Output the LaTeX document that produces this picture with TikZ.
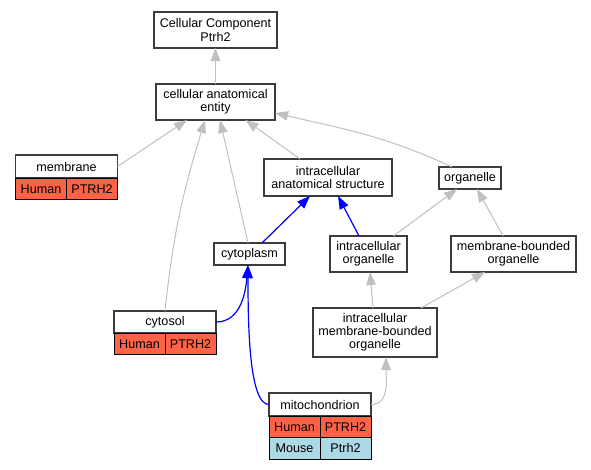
\documentclass[tikz,border=0pt]{standalone}
\usepackage{fontspec}
\setmainfont{Liberation Sans}
\usepackage{tikz}
\usetikzlibrary{arrows.meta}
\definecolor{isagray}{HTML}{C0C0C0}
\definecolor{tomato}{HTML}{FF6347}
\definecolor{lightblue}{HTML}{ADD8E6}
\definecolor{boxline}{HTML}{3C3C3C}
\tikzstyle{term}=[rectangle, draw=boxline, line width=1.4pt, fill=white, align=center, inner sep=2pt, outer sep=0pt]
\tikzstyle{cell}=[rectangle, draw=black, line width=1pt, inner sep=0pt, outer sep=0pt, minimum width=51pt, minimum height=21.5pt, anchor=north west]
\tikzset{isa/.style={draw=isagray, line width=1pt, -{Triangle[length=13pt,width=9.5pt]}},
	partof/.style={draw=blue, line width=1.2pt, -{Triangle[length=13pt,width=9.5pt]}}}

\begin{document}
\begin{tikzpicture}[x=1pt, y=1pt, font=\fontsize{12.6}{13.2}\selectfont]
		\useasboundingbox (0,0) rectangle (591,-469);
		\node[term, minimum width=123pt, minimum height=36pt] (cc) at (215.5,-30) {Cellular Component\\Ptrh2};
		\node[term, minimum width=119pt, minimum height=36pt] (cae) at (215.5,-102) {cellular anatomical\\entity};
		\node[term, minimum width=128pt, minimum height=37pt] (ias) at (328,-177.5) {intracellular\\anatomical structure};
		\node[term, minimum width=62pt, minimum height=22pt] (org) at (470,-178) {organelle};
		\node[term, minimum width=71pt, minimum height=22pt] (cytoplasm) at (249.5,-254) {cytoplasm};
		\node[term, minimum width=77pt, minimum height=36pt] (io) at (368.5,-254) {intracellular\\organelle};
		\node[term, minimum width=125pt, minimum height=36pt] (mbo) at (513.5,-254) {membrane-bounded\\organelle};
		\node[term, minimum width=124pt, minimum height=49pt] (imbo) at (375,-332.5) {intracellular\\membrane-bounded\\organelle};
		\node[term, minimum width=102pt, minimum height=23pt] (membrane) at (66.5,-166.5) {membrane};
		\node[cell, fill=tomato] (membrane-a) at (membrane.south west) {Human};
		\node[cell, fill=tomato] (membrane-b) at (membrane-a.north east) {PTRH2};
		\node[term, minimum width=102pt, minimum height=22pt] (cytosol) at (165,-322) {cytosol};
		\node[cell, fill=tomato] (cytosol-a) at (cytosol.south west) {Human};
		\node[cell, fill=tomato] (cytosol-b) at (cytosol-a.north east) {PTRH2};
		\node[term, minimum width=102pt, minimum height=23pt] (mito) at (320,-404.5) {mitochondrion};
		\node[cell, fill=tomato] (mito-a) at (mito.south west) {Human};
		\node[cell, fill=tomato] (mito-b) at (mito-a.north east) {PTRH2};
		\node[cell, fill=lightblue] (mito-c) at (mito-a.south west) {Mouse};
		\node[cell, fill=lightblue] (mito-d) at (mito-c.north east) {Ptrh2};
		\draw[isa] (cae) -- (cc);
		\draw[isa] (membrane.east) -- ([xshift=-28.5pt]cae.south);
		\draw[isa] (cytosol.north) to[out=84, in=253] ([xshift=-10.5pt]cae.south);
		\draw[isa] ([xshift=-1.5pt]cytoplasm.north) -- ([xshift=4.5pt]cae.south);
		\draw[isa] ([xshift=-28pt]ias.north) -- ([xshift=30pt]cae.south);
		\draw[isa] ([xshift=-18pt]org.north) to[out=155, in=-13] ([yshift=-11pt]cae.east);
		\draw[partof] ([xshift=12.5pt]cytoplasm.north) -- ([xshift=-18pt]ias.south);
		\draw[partof] ([xshift=-9.5pt]io.north) -- ([xshift=10pt]ias.south);
		\draw[isa] ([xshift=25pt]io.north) -- ([xshift=-13pt]org.south);
		\draw[isa] ([xshift=-10.5pt]mbo.north) -- ([xshift=7pt]org.south);
		\draw[isa] ([xshift=-2pt]imbo.north) -- ([xshift=1.5pt]io.south);
		\draw[isa] ([xshift=46pt]imbo.north) -- ([xshift=-28.5pt]mbo.south);
		\draw[partof] (cytosol.east) to[out=0, in=-95] ([xshift=-1.5pt]cytoplasm.south);
		\draw[partof] (mito.west) to[out=180, in=-90, out distance=20pt, in distance=60pt] ([xshift=-1.5pt]cytoplasm.south);
		\draw[isa] (mito.east) to[out=0, in=-90] ([xshift=11pt]imbo.south);
\end{tikzpicture}
\end{document}
